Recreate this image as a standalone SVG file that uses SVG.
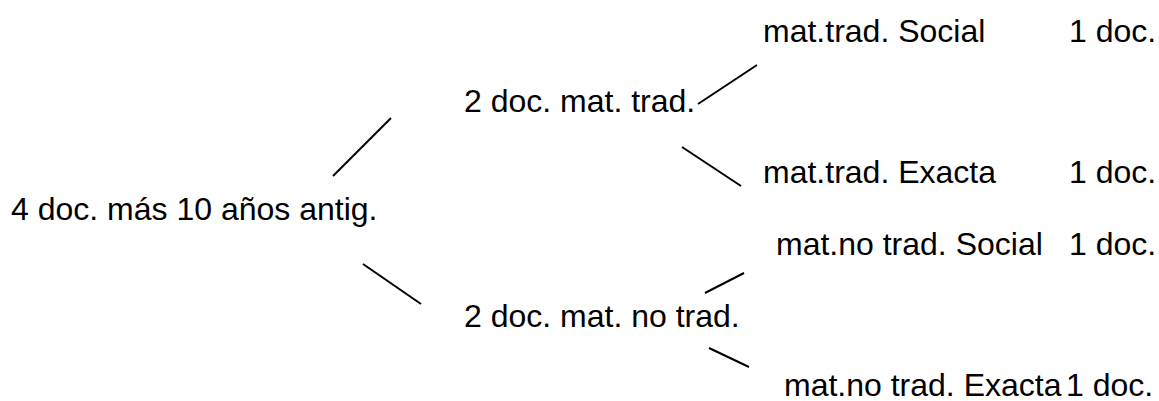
<svg xmlns="http://www.w3.org/2000/svg" width="1159" height="401" viewBox="0 0 1159 401">
<style>
text{font-family:"Liberation Sans",Arial,sans-serif;font-size:32px;fill:#000}
.c line{stroke:#000;stroke-width:2;stroke-linecap:butt}
</style>
<rect width="1159" height="401" fill="#fff"/>
<g id="root"><text x="11" y="220">4 doc. más 10 años antig.</text></g>
<g id="trad"><text x="464" y="112">2 doc. mat. trad.</text></g>
<g id="notrad"><text x="464" y="327">2 doc. mat. no trad.</text></g>
<g id="trad-social"><text x="763" y="42">mat.trad. Social</text><text x="1069" y="42">1 doc.</text></g>
<g id="trad-exacta"><text x="763" y="183">mat.trad. Exacta</text><text x="1069" y="183">1 doc.</text></g>
<g id="notrad-social"><text x="776" y="255">mat.no trad. Social</text><text x="1069" y="255">1 doc.</text></g>
<g id="notrad-exacta"><text x="784" y="396">mat.no trad. Exacta</text><text x="1066" y="396">1 doc.</text></g>
<g id="connectors" class="c">
<line x1="333" y1="176" x2="391" y2="118"/>
<line x1="363" y1="264" x2="421" y2="304"/>
<line x1="698" y1="104" x2="757" y2="65"/>
<line x1="682" y1="147" x2="741" y2="186"/>
<line x1="705" y1="293" x2="744" y2="273"/>
<line x1="709" y1="348" x2="749" y2="367"/>
</g>
</svg>
